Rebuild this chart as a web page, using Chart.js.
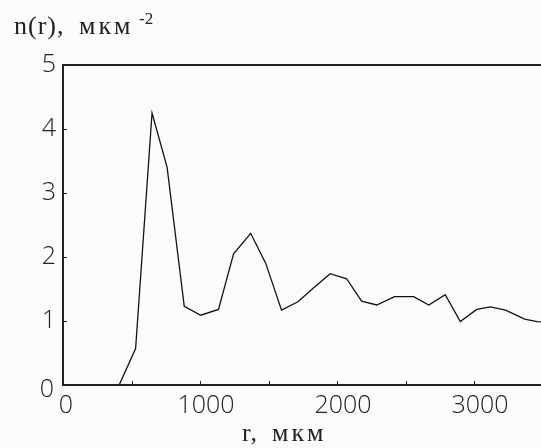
<!DOCTYPE html>
<html>
<head>
<meta charset="utf-8">
<script src="https://cdn.jsdelivr.net/npm/chart.js@4"></script>
<style>
  html, body { margin: 0; padding: 0; background: #fbfbfb; overflow: hidden; }
  #wrap { position: relative; width: 541px; height: 448px; overflow: hidden; background: #fbfbfb; }
  #chart { position: absolute; left: 0; top: 0; }
  .lbl { position: absolute; font-family: "Liberation Serif", "DejaVu Serif", serif; font-size: 26px; line-height: 26px; color: #222; white-space: nowrap; }
  .unit { letter-spacing: 3px; }
  .sup { font-size: 17px; line-height: 17px; }
</style>
</head>
<body>
<div id="wrap">
  <canvas id="chart" width="560" height="448"></canvas>
  <div class="lbl" style="left:14px; top:13px; letter-spacing:1px;">n(r),</div>
  <div class="lbl unit" style="left:79px; top:13px;">мкм</div>
  <div class="lbl sup" style="left:139px; top:10px;">-2</div>
  <div class="lbl" style="left:242px; top:420px; letter-spacing:1px;">r,</div>
  <div class="lbl unit" style="left:272px; top:420px;">мкм</div>
</div>
<script>
// r, мкм
const rValues = [410, 530, 650, 760, 885, 1005, 1135, 1245, 1370, 1480, 1595, 1715, 1830, 1950,
  2070, 2180, 2290, 2420, 2560, 2670, 2790, 2900, 3020, 3120, 3230, 3370, 3460, 3550];
// n(r), мкм^-2
const nValues = [0, 0.57, 4.25, 3.4, 1.23, 1.09, 1.18, 2.05, 2.37, 1.9, 1.17, 1.30, 1.52, 1.74,
  1.66, 1.31, 1.25, 1.38, 1.38, 1.25, 1.41, 0.99, 1.18, 1.22, 1.17, 1.03, 0.99, 0.98];

const xTicks = [0, 1000, 2000, 3000];
const xMinorTicks = [500, 1500, 2500];
const yTicks = [0, 1, 2, 3, 4, 5];

const tickFont = '300 25px "Open Sans", "Liberation Sans", sans-serif';
const ink = "#222";

// frame, inner tick marks and tick labels
const framePlugin = {
  id: "frame",
  afterDraw(chart) {
    const ctx = chart.ctx;
    const a = chart.chartArea;
    const xs = chart.scales.x;
    const ys = chart.scales.y;
    ctx.save();
    ctx.strokeStyle = ink;
    ctx.lineWidth = 2;
    ctx.beginPath();
    ctx.moveTo(chart.width, a.top);
    ctx.lineTo(a.left, a.top);
    ctx.lineTo(a.left, a.bottom);
    ctx.lineTo(chart.width, a.bottom);
    ctx.stroke();

    ctx.lineWidth = 1;
    ctx.beginPath();
    xTicks.concat(xMinorTicks).forEach((v) => {
      if (v === 0) return;
      const px = Math.round(xs.getPixelForValue(v)) + 0.5;
      ctx.moveTo(px, a.bottom);
      ctx.lineTo(px, a.bottom - 4);
    });
    yTicks.forEach((v) => {
      if (v === 0 || v === 5) return;
      const py = Math.round(ys.getPixelForValue(v)) + 0.5;
      ctx.moveTo(a.left, py);
      ctx.lineTo(a.left + 4, py);
    });
    ctx.stroke();

    ctx.fillStyle = ink;
    ctx.font = tickFont;
    ctx.textAlign = "right";
    ctx.textBaseline = "middle";
    yTicks.forEach((v) => {
      let py = ys.getPixelForValue(v);
      let px = a.left - 7;
      if (v === 0) { py += 5; px -= 2; }
      ctx.fillText(String(v), px, py);
    });
    ctx.textAlign = "center";
    ctx.textBaseline = "top";
    xTicks.forEach((v) => {
      const px = xs.getPixelForValue(v) + (v === 0 ? 3 : 6);
      ctx.fillText(String(v), px, a.bottom + 8);
    });
    ctx.restore();
  }
};

new Chart(document.getElementById("chart"), {
  type: "line",
  data: {
    datasets: [{
      data: rValues.map((r, i) => ({ x: r, y: nValues[i] })),
      borderColor: "#111",
      borderWidth: 1.3,
      pointRadius: 0,
      tension: 0,
      fill: false
    }]
  },
  options: {
    responsive: false,
    animation: false,
    layout: { padding: { left: 63, top: 65, right: 17.5, bottom: 63 } },
    scales: {
      x: { type: "linear", min: 0, max: 3500, display: false },
      y: { min: 0, max: 5, display: false }
    },
    plugins: { legend: { display: false }, tooltip: { enabled: false } }
  },
  plugins: [framePlugin]
});
</script>
</body>
</html>
